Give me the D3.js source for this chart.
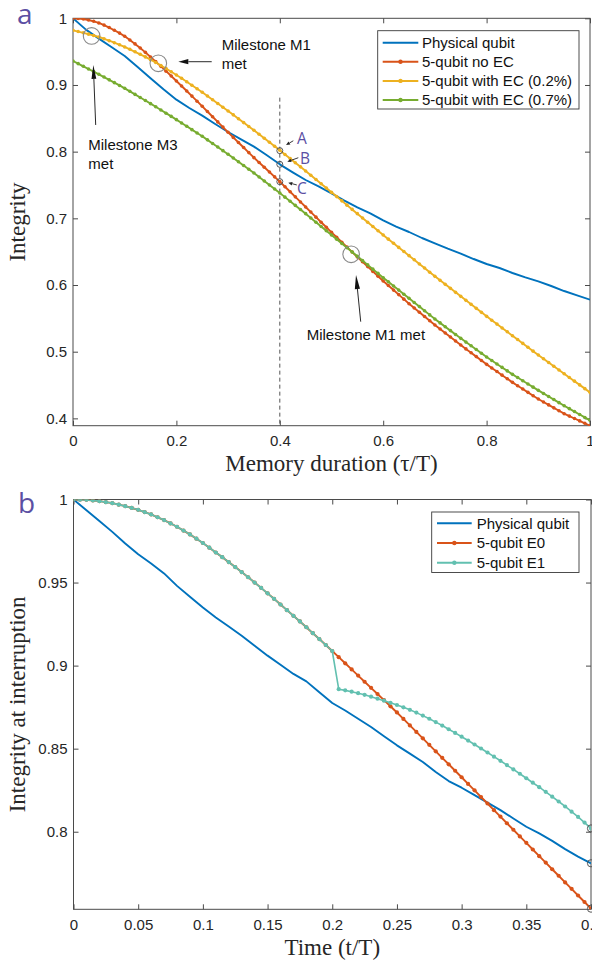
<!DOCTYPE html>
<html>
<head>
<meta charset="utf-8">
<script src="https://cdn.jsdelivr.net/npm/d3@7"></script>
<style>
  html, body { margin: 0; padding: 0; background: #fff; }
  svg { display: block; }
</style>
</head>
<body>
<svg id="fig" width="592" height="961"></svg>
<script>
// ---------------- data: panel a (memory duration τ/T) ----------------
// Physical qubit integrity, sampled every 0.025 of τ/T
const physicalA = [1.0, 0.983, 0.9695, 0.9565, 0.9435, 0.927, 0.910, 0.8935, 0.878, 0.8655,
  0.854, 0.8415, 0.8295, 0.8185, 0.8075, 0.7945, 0.781, 0.769, 0.7575, 0.748,
  0.7375, 0.7265, 0.7165, 0.7075, 0.697, 0.6875, 0.6795, 0.6705, 0.6625, 0.6545,
  0.647, 0.639, 0.6315, 0.6255, 0.618, 0.6115, 0.6055, 0.5985, 0.591, 0.5845, 0.578];
const physicalAStep = 0.025;

// 5-qubit series, sampled every 0.01 of τ/T
const noEcA = [1.0000, 0.9997, 0.9989, 0.9975, 0.9955, 0.9930, 0.9898, 0.9861, 0.9821, 0.9778,
  0.9730, 0.9675, 0.9616, 0.9554, 0.9489, 0.9420, 0.9350, 0.9279, 0.9207, 0.9134,
  0.9060, 0.8985, 0.8909, 0.8833, 0.8757, 0.8680, 0.8602, 0.8524, 0.8446, 0.8368,
  0.8290, 0.8214, 0.8138, 0.8062, 0.7986, 0.7910, 0.7838, 0.7766, 0.7694, 0.7622,
  0.7550, 0.7474, 0.7398, 0.7322, 0.7246, 0.7170, 0.7094, 0.7018, 0.6942, 0.6866,
  0.6790, 0.6716, 0.6642, 0.6568, 0.6494, 0.6420, 0.6348, 0.6276, 0.6204, 0.6132,
  0.6060, 0.5992, 0.5924, 0.5856, 0.5788, 0.5720, 0.5656, 0.5592, 0.5528, 0.5464,
  0.5400, 0.5340, 0.5280, 0.5220, 0.5160, 0.5100, 0.5042, 0.4984, 0.4926, 0.4868,
  0.4810, 0.4756, 0.4702, 0.4648, 0.4594, 0.4540, 0.4490, 0.4440, 0.4390, 0.4340,
  0.4290, 0.4246, 0.4202, 0.4158, 0.4114, 0.4070, 0.4034, 0.3998, 0.3962, 0.3926,
  0.3890];
const ec02A = [0.9820, 0.9801, 0.9782, 0.9762, 0.9741, 0.9720, 0.9693, 0.9664, 0.9634, 0.9603,
  0.9570, 0.9535, 0.9498, 0.9460, 0.9421, 0.9380, 0.9337, 0.9292, 0.9246, 0.9199,
  0.9150, 0.9100, 0.9049, 0.8997, 0.8944, 0.8890, 0.8835, 0.8779, 0.8723, 0.8666,
  0.8610, 0.8552, 0.8494, 0.8436, 0.8378, 0.8320, 0.8260, 0.8200, 0.8140, 0.8080,
  0.8020, 0.7958, 0.7896, 0.7834, 0.7772, 0.7710, 0.7646, 0.7582, 0.7518, 0.7454,
  0.7390, 0.7326, 0.7262, 0.7198, 0.7134, 0.7070, 0.7006, 0.6942, 0.6878, 0.6814,
  0.6750, 0.6688, 0.6626, 0.6564, 0.6502, 0.6440, 0.6378, 0.6316, 0.6254, 0.6192,
  0.6130, 0.6070, 0.6010, 0.5950, 0.5890, 0.5830, 0.5770, 0.5710, 0.5650, 0.5590,
  0.5530, 0.5472, 0.5414, 0.5356, 0.5298, 0.5240, 0.5182, 0.5124, 0.5066, 0.5008,
  0.4950, 0.4894, 0.4838, 0.4782, 0.4726, 0.4670, 0.4614, 0.4558, 0.4502, 0.4446,
  0.4390];
const ec07A = [0.9360, 0.9320, 0.9280, 0.9240, 0.9200, 0.9160, 0.9119, 0.9077, 0.9035, 0.8993,
  0.8950, 0.8905, 0.8859, 0.8813, 0.8767, 0.8720, 0.8673, 0.8625, 0.8577, 0.8529,
  0.8480, 0.8430, 0.8380, 0.8330, 0.8280, 0.8230, 0.8177, 0.8123, 0.8069, 0.8015,
  0.7960, 0.7905, 0.7849, 0.7793, 0.7737, 0.7680, 0.7621, 0.7561, 0.7501, 0.7441,
  0.7380, 0.7318, 0.7256, 0.7194, 0.7132, 0.7070, 0.7006, 0.6942, 0.6878, 0.6814,
  0.6750, 0.6686, 0.6622, 0.6558, 0.6494, 0.6430, 0.6366, 0.6302, 0.6238, 0.6174,
  0.6110, 0.6048, 0.5986, 0.5924, 0.5862, 0.5800, 0.5738, 0.5676, 0.5614, 0.5552,
  0.5490, 0.5432, 0.5374, 0.5316, 0.5258, 0.5200, 0.5144, 0.5088, 0.5032, 0.4976,
  0.4920, 0.4868, 0.4816, 0.4764, 0.4712, 0.4660, 0.4612, 0.4564, 0.4516, 0.4468,
  0.4420, 0.4374, 0.4328, 0.4282, 0.4236, 0.4190, 0.4146, 0.4102, 0.4058, 0.4014,
  0.3970];
const qubitAStep = 0.01;

const seriesNamesA = ["Physical qubit", "5-qubit no EC", "5-qubit with EC (0.2%)", "5-qubit with EC (0.7%)"];
const xTicksA = [0, 0.2, 0.4, 0.6, 0.8, 1];
const yTicksA = [0.4, 0.5, 0.6, 0.7, 0.8, 0.9, 1];

// Milestone crossings (τ/T, integrity) and the three read-outs at τ/T = 0.4
const milestones = [[0.036, 0.9735], [0.165, 0.9325], [0.538, 0.646]];
const probeTau = 0.4;
const probeLabels = ["A", "B", "C"];
const probeValues = [0.8015, 0.781, 0.755];

// ---------------- data: panel b (time t/T) ----------------
// Physical qubit, sampled every 0.01 of t/T
const physicalB = [1.0, 0.9935, 0.987, 0.9805, 0.9735, 0.967, 0.9615, 0.9555, 0.948, 0.9415,
  0.935, 0.929, 0.9235, 0.918, 0.912, 0.906, 0.9005, 0.895, 0.8905, 0.884,
  0.8775, 0.873, 0.868, 0.863, 0.8575, 0.852, 0.847, 0.842, 0.836, 0.8305,
  0.8265, 0.822, 0.8175, 0.813, 0.808, 0.803, 0.799, 0.7945, 0.7895, 0.785, 0.781];
const physicalBStep = 0.01;

// 5-qubit E0, sampled every 0.005 of t/T
const e0B = [1.0000, 0.9999, 0.9998, 0.9994, 0.9990, 0.9984, 0.9978, 0.9969, 0.9960, 0.9949,
  0.9938, 0.9924, 0.9910, 0.9893, 0.9876, 0.9856, 0.9836, 0.9813, 0.9790, 0.9764,
  0.9738, 0.9710, 0.9681, 0.9653, 0.9623, 0.9593, 0.9563, 0.9532, 0.9500, 0.9468,
  0.9435, 0.9402, 0.9368, 0.9334, 0.9300, 0.9266, 0.9231, 0.9195, 0.9160, 0.9124,
  0.9088, 0.9051, 0.9014, 0.8977, 0.8940, 0.8903, 0.8866, 0.8829, 0.8792, 0.8755,
  0.8718, 0.8679, 0.8640, 0.8601, 0.8562, 0.8523, 0.8484, 0.8445, 0.8406, 0.8367,
  0.8328, 0.8288, 0.8249, 0.8209, 0.8170, 0.8130, 0.8091, 0.8051, 0.8012, 0.7972,
  0.7933, 0.7893, 0.7853, 0.7814, 0.7774, 0.7735, 0.7695, 0.7656, 0.7616, 0.7577,
  0.7537];
// 5-qubit E1 follows E0 up to t/T = 0.2, then after the interruption (t/T = 0.205 ... 0.4):
const e1AfterInterrupt = [0.8858, 0.8851, 0.8843, 0.8834, 0.8824, 0.8813, 0.8801, 0.8789, 0.8776, 0.8763,
  0.8749, 0.8734, 0.8717, 0.8699, 0.8680, 0.8660, 0.8639, 0.8617, 0.8595, 0.8572,
  0.8549, 0.8525, 0.8501, 0.8477, 0.8452, 0.8427, 0.8401, 0.8375, 0.8349, 0.8322,
  0.8295, 0.8268, 0.8240, 0.8211, 0.8182, 0.8152, 0.8121, 0.8089, 0.8055, 0.8020];
const e1B = e0B.slice(0, 41).concat(e1AfterInterrupt);
const qubitBStep = 0.005;

const seriesNamesB = ["Physical qubit", "5-qubit E0", "5-qubit E1"];
const xTicksB = [0, 0.05, 0.1, 0.15, 0.2, 0.25, 0.3, 0.35, 0.4];
const yTicksB = [0.8, 0.85, 0.9, 0.95, 1];

// ---------------- drawing ----------------
const col = {
  blue: "#0072BD", red: "#D95319", yellow: "#EDB120", green: "#77AC30",
  teal: "#62C0B0", purple: "#5B4FA3", axis: "#4a4a4a", text: "#262626"
};
const SANS = "'Liberation Sans', Arial, Helvetica, sans-serif";
const SERIF = "'Liberation Serif', 'Times New Roman', serif";
const svg = d3.select("#fig");

const pts = (step, ys) => ys.map((v, i) => [i * step, v]);
const fmt = d => String(+d.toFixed(2));

function makePanel(o) {
  const x = d3.scaleLinear().domain(o.xDomain).range([o.left, o.right]);
  const y = d3.scaleLinear().domain(o.yDomain).range([o.bottom, o.top]);
  const g = svg.append("g");

  svg.append("clipPath").attr("id", o.id + "clip")
    .append("rect").attr("x", o.left).attr("y", o.top)
    .attr("width", o.right - o.left).attr("height", o.bottom - o.top);

  const styleAxis = sel => {
    sel.attr("font-family", SANS).attr("font-size", 15).attr("color", col.axis);
    sel.select(".domain").remove();
    sel.selectAll("text").attr("fill", col.text);
  };
  g.append("g").attr("transform", `translate(0,${o.bottom})`)
    .call(d3.axisBottom(x).tickValues(o.xTicks).tickSize(-5).tickSizeOuter(0).tickPadding(10).tickFormat(fmt))
    .call(styleAxis);
  g.append("g").attr("transform", `translate(0,${o.top})`)
    .call(d3.axisTop(x).tickValues(o.xTicks).tickSize(-5).tickSizeOuter(0).tickFormat(""))
    .call(styleAxis);
  g.append("g").attr("transform", `translate(${o.left},0)`)
    .call(d3.axisLeft(y).tickValues(o.yTicks).tickSize(-5).tickSizeOuter(0).tickPadding(6).tickFormat(fmt))
    .call(styleAxis);
  g.append("g").attr("transform", `translate(${o.right},0)`)
    .call(d3.axisRight(y).tickValues(o.yTicks).tickSize(-5).tickSizeOuter(0).tickFormat(""))
    .call(styleAxis);

  g.append("rect").attr("x", o.left).attr("y", o.top)
    .attr("width", o.right - o.left).attr("height", o.bottom - o.top)
    .attr("fill", "none").attr("stroke", col.axis).attr("stroke-width", 1);

  const plot = svg.append("g").attr("clip-path", `url(#${o.id}clip)`);
  return { x, y, g, plot };
}

function drawSeries(p, data, color, width, markerR) {
  const line = d3.line().x(d => p.x(d[0])).y(d => p.y(d[1]));
  p.plot.append("path").datum(data).attr("d", line)
    .attr("fill", "none").attr("stroke", color).attr("stroke-width", width)
    .attr("stroke-linejoin", "round");
  if (markerR) {
    p.plot.append("g").selectAll("circle").data(data).join("circle")
      .attr("cx", d => p.x(d[0])).attr("cy", d => p.y(d[1])).attr("r", markerR)
      .attr("fill", color);
  }
}

function arrow(sel, x1, y1, x2, y2, headLen, headHalf, color) {
  const a = Math.atan2(y2 - y1, x2 - x1);
  const bx = x2 - headLen * Math.cos(a), by = y2 - headLen * Math.sin(a);
  sel.append("line").attr("x1", x1).attr("y1", y1).attr("x2", bx).attr("y2", by)
    .attr("stroke", color).attr("stroke-width", 0.9);
  const nx = -Math.sin(a) * headHalf, ny = Math.cos(a) * headHalf;
  sel.append("path")
    .attr("d", `M${x2},${y2}L${bx + nx},${by + ny}L${bx - nx},${by - ny}Z`)
    .attr("fill", color);
}

function legend(o) {
  const g = svg.append("g");
  g.append("rect").attr("x", o.x).attr("y", o.y).attr("width", o.w).attr("height", o.h)
    .attr("fill", "#fff").attr("stroke", "#3a3a3a").attr("stroke-width", 0.9);
  o.entries.forEach((e, i) => {
    const cy = o.rowY0 + i * o.rowGap;
    g.append("line").attr("x1", o.lineX1).attr("x2", o.lineX2).attr("y1", cy).attr("y2", cy)
      .attr("stroke", e.color).attr("stroke-width", 2);
    if (e.marker) {
      g.append("circle").attr("cx", (o.lineX1 + o.lineX2) / 2).attr("cy", cy).attr("r", 2.2)
        .attr("fill", e.color);
    }
    g.append("text").attr("x", o.textX).attr("y", cy + 5.3).text(e.name)
      .attr("font-family", SANS).attr("font-size", 15).attr("fill", "#111");
  });
}

// ---------- panel a ----------
const pa = makePanel({ id: "a", left: 73, right: 590, top: 18.3, bottom: 425.7,
  xDomain: [0, 1], yDomain: [0.389, 1], xTicks: xTicksA, yTicks: yTicksA });

// vertical dashed marker at τ/T = 0.4
pa.plot.append("line")
  .attr("x1", pa.x(probeTau)).attr("x2", pa.x(probeTau))
  .attr("y1", pa.y(0.881)).attr("y2", pa.y(0.389))
  .attr("stroke", "#555").attr("stroke-width", 1).attr("stroke-dasharray", "4,3");

drawSeries(pa, pts(physicalAStep, physicalA), col.blue, 1.9, 0);
drawSeries(pa, pts(qubitAStep, noEcA), col.red, 1.9, 1.8);
drawSeries(pa, pts(qubitAStep, ec02A), col.yellow, 1.9, 1.8);
drawSeries(pa, pts(qubitAStep, ec07A), col.green, 1.9, 1.8);

// milestone rings
svg.append("g").selectAll("circle").data(milestones).join("circle")
  .attr("cx", d => pa.x(d[0])).attr("cy", d => pa.y(d[1])).attr("r", 8.3)
  .attr("fill", "none").attr("stroke", "#8a8a8a").attr("stroke-width", 1.1);

// read-outs A, B, C
const probeOffsets = [
  { lx: 22, ly: 5.5, ax1: 13.5, ay1: -9.9, ax2: 6.2, ay2: -5.6, dy: -12.3 },
  { lx: 25.2, ly: 5.5, ax1: 18.5, ay1: -6.6, ax2: 7.5, ay2: -2.6, dy: -6 },
  { lx: 22, ly: 5.5, ax1: 17, ay1: 3.3, ax2: 8.5, ay2: 1, dy: 6.6 }
];
const probes = svg.append("g");
probeValues.forEach((v, i) => {
  const cx = pa.x(probeTau), cy = pa.y(v), o = probeOffsets[i];
  probes.append("circle").attr("cx", cx).attr("cy", cy).attr("r", 3)
    .attr("fill", "none").attr("stroke", "#555").attr("stroke-width", 1);
  arrow(probes, cx + o.ax1, cy + o.ay1, cx + o.ax2, cy + o.ay2, 4, 1.8, "#222");
  probes.append("text").attr("x", cx + o.lx).attr("y", cy + o.dy + o.ly)
    .attr("text-anchor", "middle").attr("font-family", "'Open Sans', 'Noto Sans', sans-serif")
    .attr("font-size", 15.5).attr("fill", col.purple).text(probeLabels[i]);
});

// milestone notes
const notes = svg.append("g").attr("font-family", SANS).attr("font-size", 15).attr("fill", "#111");
notes.append("text").attr("x", pa.x(0.2876)).attr("y", pa.y(0.9525)).text("Milestone M1");
notes.append("text").attr("x", pa.x(0.2876)).attr("y", pa.y(0.9247)).text("met");
arrow(notes, pa.x(0.2683), pa.y(0.9349), pa.x(0.2037), pa.y(0.9349), 10, 2.6, "#111");
notes.append("text").attr("x", pa.x(0.0296)).attr("y", pa.y(0.8025)).text("Milestone M3");
notes.append("text").attr("x", pa.x(0.0296)).attr("y", pa.y(0.7747)).text("met");
arrow(notes, pa.x(0.0439), pa.y(0.84), pa.x(0.0393), pa.y(0.93), 14, 2.4, "#111");
notes.append("text").attr("x", pa.x(0.452)).attr("y", pa.y(0.5175)).text("Milestone M1 met");
arrow(notes, pa.x(0.5565), pa.y(0.545), pa.x(0.5474), pa.y(0.615), 14, 2.6, "#111");

legend({ x: 377.7, y: 30.7, w: 201.3, h: 78.3, lineX1: 382.7, lineX2: 418.3, textX: 422,
  rowY0: 42.7, rowGap: 19.1,
  entries: [
    { name: seriesNamesA[0], color: col.blue, marker: false },
    { name: seriesNamesA[1], color: col.red, marker: true },
    { name: seriesNamesA[2], color: col.yellow, marker: true },
    { name: seriesNamesA[3], color: col.green, marker: true }
  ] });

// axis titles, panel a
svg.append("text").attr("x", (73 + 590) / 2).attr("y", 471).attr("text-anchor", "middle")
  .attr("font-family", SERIF).attr("font-size", 23).attr("fill", col.text)
  .text("Memory duration (\u03C4/T)");
svg.append("text").attr("transform", `translate(25,${(18.3 + 425.7) / 2}) rotate(-90)`)
  .attr("text-anchor", "middle").attr("font-family", SERIF).attr("font-size", 23)
  .attr("fill", col.text).text("Integrity");

// ---------- panel b ----------
const pb = makePanel({ id: "b", left: 73.5, right: 591, top: 499.5, bottom: 909.3,
  xDomain: [0, 0.4], yDomain: [0.7533, 1], xTicks: xTicksB, yTicks: yTicksB });

drawSeries(pb, pts(physicalBStep, physicalB), col.blue, 1.9, 0);
drawSeries(pb, pts(qubitBStep, e0B), col.red, 1.9, 2.1);
drawSeries(pb, pts(qubitBStep, e1B), col.teal, 1.6, 2.1);

// end-of-run markers at t/T = 0.4
const ends = [e1B[e1B.length - 1], physicalB[physicalB.length - 1], e0B[e0B.length - 1]];
svg.append("g").selectAll("circle").data(ends).join("circle")
  .attr("cx", pb.x(0.4)).attr("cy", d => pb.y(d)).attr("r", 3.6)
  .attr("fill", "none").attr("stroke", "#555").attr("stroke-width", 1);

legend({ x: 431.7, y: 512, w: 147.3, h: 60.5, lineX1: 437, lineX2: 471.7, textX: 476.7,
  rowY0: 523.3, rowGap: 19.7,
  entries: [
    { name: seriesNamesB[0], color: col.blue, marker: false },
    { name: seriesNamesB[1], color: col.red, marker: true },
    { name: seriesNamesB[2], color: col.teal, marker: true }
  ] });

svg.append("text").attr("x", (73.5 + 591) / 2).attr("y", 955).attr("text-anchor", "middle")
  .attr("font-family", SERIF).attr("font-size", 23).attr("fill", col.text)
  .text("Time (t/T)");
svg.append("text").attr("transform", `translate(25,${(499.5 + 909.3) / 2}) rotate(-90)`)
  .attr("text-anchor", "middle").attr("font-family", SERIF).attr("font-size", 23)
  .attr("fill", col.text).text("Integrity at interruption");

// panel letters
svg.append("text").attr("x", 17).attr("y", 24).attr("font-family", "'Open Sans', 'Noto Sans', sans-serif")
  .attr("font-size", 28).attr("fill", col.purple).text("a");
svg.append("text").attr("x", 18).attr("y", 513).attr("font-family", "'Open Sans', 'Noto Sans', sans-serif")
  .attr("font-size", 28).attr("fill", col.purple).text("b");
</script>
</body>
</html>
